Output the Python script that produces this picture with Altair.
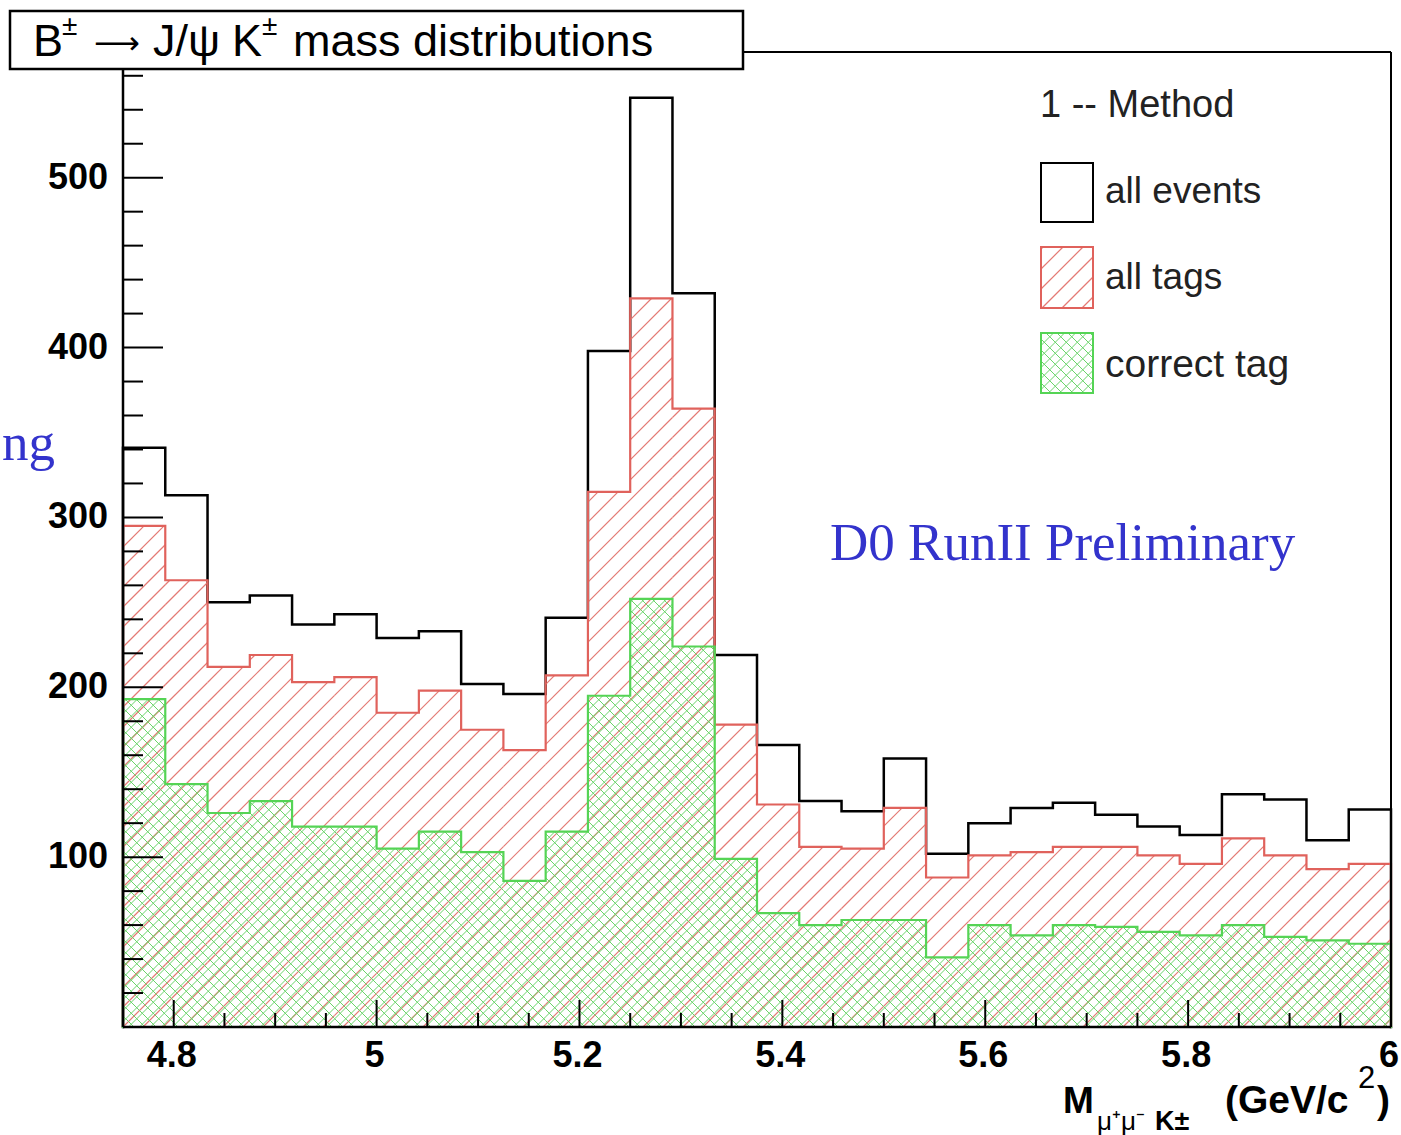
import math
import altair as alt
import pandas as pd

# ---------------- data ----------------
bin_lo, bin_hi, n_bins = 4.75, 6.0, 30
all_events = [341, 313, 250, 254, 237, 243, 229, 233, 202, 196,
              241, 398, 547, 432, 219, 166, 133, 127, 158, 102,
              120, 129, 132, 125, 118, 113, 137, 134, 110, 128]
all_tags = [295, 263, 212, 219, 203, 206, 185, 198, 175, 163,
            207, 315, 429, 364, 178, 131, 106, 105, 129, 88,
            101, 103, 106, 106, 101, 96, 111, 101, 93, 96]
correct_tag = [193, 143, 126, 133, 118, 118, 105, 115, 103, 86,
               115, 195, 252, 224, 99, 67, 60, 63, 63, 41,
               60, 54, 60, 59, 56, 54, 60, 53, 51, 49]
x_tick_labels = [4.8, 5.0, 5.2, 5.4, 5.6, 5.8, 6.0]
y_tick_labels = [100, 200, 300, 400, 500]
y_max = 574
legend_labels = ["all events", "all tags", "correct tag"]

# ---------------- geometry helpers ----------------
W, H = 1268, 975
bw = (bin_hi - bin_lo) / n_bins
edges = [bin_lo + i * bw for i in range(n_bins + 1)]

def px(x):
    return (x - bin_lo) / (bin_hi - bin_lo) * W

def py(v):
    return v / y_max * H

def dx(p):
    return bin_lo + p / W * (bin_hi - bin_lo)

def dy(p):
    return p / H * y_max

def step_df(vals):
    rows = [(bin_lo, 0)]
    for i, v in enumerate(vals):
        rows.append((edges[i], v))
        rows.append((edges[i + 1], v))
    rows.append((bin_hi, 0))
    return pd.DataFrame({"x": [r[0] for r in rows], "y": [r[1] for r in rows],
                         "o": list(range(len(rows)))})

def hatch(rects, spacing, phase, direction):
    segs = []
    for (xa, xb, yb, yt) in rects:
        if yt <= yb:
            continue
        if direction > 0:  # lines x - y = c  ("///")
            cmin, cmax = xa - yt, xb - yb
            for k in range(math.ceil((cmin - phase) / spacing), math.floor((cmax - phase) / spacing) + 1):
                c = phase + k * spacing
                lo, hi = max(xa, c + yb), min(xb, c + yt)
                if hi - lo > 0.3:
                    segs.append((lo, lo - c, hi, hi - c))
        else:  # lines x + y = c ("\\\")
            cmin, cmax = xa + yb, xb + yt
            for k in range(math.ceil((cmin - phase) / spacing), math.floor((cmax - phase) / spacing) + 1):
                c = phase + k * spacing
                lo, hi = max(xa, c - yt), min(xb, c - yb)
                if hi - lo > 0.3:
                    segs.append((lo, c - lo, hi, c - hi))
    return pd.DataFrame({"x1": [dx(s[0]) for s in segs], "y1": [dy(s[1]) for s in segs],
                         "x2": [dx(s[2]) for s in segs], "y2": [dy(s[3]) for s in segs]})

def hist_rects(vals):
    return [(px(edges[i]), px(edges[i + 1]), 0.0, py(v)) for i, v in enumerate(vals)]

# legend swatch rectangles (plot-relative pixels, y measured downward)
sw_x0, sw_x1 = 918, 970
sw_black = (111, 170)
sw_red = (195, 256)
sw_green = (281, 341)

def sw_rect(r):
    return [(sw_x0, sw_x1, H - r[1], H - r[0])]

RED = "#e0625c"
RED_H = "#e47a74"
GREEN = "#55d455"
GREEN_H = "#6ad46a"
S_RED, S_GREEN = 20, 11

red_hatch = pd.concat([hatch(hist_rects(all_tags), S_RED, 0, 1),
                       hatch(sw_rect(sw_red), S_RED, 0, 1)])
green_hatch = pd.concat([hatch(hist_rects(correct_tag), S_GREEN, S_GREEN / 2, 1),
                         hatch(hist_rects(correct_tag), S_GREEN, 0, -1),
                         hatch(sw_rect(sw_green), S_GREEN, S_GREEN / 2, 1),
                         hatch(sw_rect(sw_green), S_GREEN, 0, -1)])

xs = alt.Scale(domain=[bin_lo, bin_hi], nice=False, zero=False)
ys = alt.Scale(domain=[0, y_max], nice=False, zero=True)

def seg_layer(df, color, width):
    return alt.Chart(df).mark_rule(color=color, strokeWidth=width).encode(
        x=alt.X("x1:Q", scale=xs, axis=None), y=alt.Y("y1:Q", scale=ys, axis=None),
        x2="x2:Q", y2="y2:Q")

def step_layer(vals, color, width):
    return alt.Chart(step_df(vals)).mark_line(
        color=color, strokeWidth=width, strokeJoin="miter", strokeCap="square").encode(
        x=alt.X("x:Q", scale=xs, axis=None), y=alt.Y("y:Q", scale=ys, axis=None),
        order=alt.Order("o:Q"))

# ticks
y_ticks = list(range(20, 561, 20))
y_major = pd.DataFrame({"v": [t for t in y_ticks if t % 100 == 0]})
y_minor = pd.DataFrame({"v": [t for t in y_ticks if t % 100 != 0]})
x_ticks = [round(4.80 + 0.05 * i, 2) for i in range(24)]
x_major = pd.DataFrame({"v": [t for t in x_ticks if abs(t * 5 - round(t * 5)) < 1e-6]})
x_minor = pd.DataFrame({"v": [t for t in x_ticks if abs(t * 5 - round(t * 5)) >= 1e-6]})

def ytick(df, length):
    return alt.Chart(df).mark_rule(color="black", strokeWidth=2).encode(
        y=alt.Y("v:Q", scale=ys, axis=None), x=alt.value(0), x2=alt.value(length))

def xtick(df, length):
    return alt.Chart(df).mark_rule(color="black", strokeWidth=2).encode(
        x=alt.X("v:Q", scale=xs, axis=None), y=alt.value(H), y2=alt.value(H - length))

y_labels = alt.Chart(pd.DataFrame({"v": y_tick_labels})).mark_text(
    font="Liberation Sans", fontWeight="bold", fontSize=36, color="black",
    align="right", baseline="middle").encode(
    y=alt.Y("v:Q", scale=ys, axis=None), x=alt.value(-15), text=alt.Text("v:Q", format="~g"))

x_labels = alt.Chart(pd.DataFrame({"v": x_tick_labels})).mark_text(
    font="Liberation Sans", fontWeight="bold", fontSize=36, color="black",
    align="center", baseline="top", dx=-2).encode(
    x=alt.X("v:Q", scale=xs, axis=None), y=alt.value(H + 12), text=alt.Text("v:Q", format="~g"))

one = pd.DataFrame({"a": [0]})

def rule(x, y, x2=None, y2=None, w=2):
    enc = dict(x=alt.value(x), y=alt.value(y))
    if x2 is not None:
        enc["x2"] = alt.value(x2)
    if y2 is not None:
        enc["y2"] = alt.value(y2)
    return alt.Chart(one).mark_rule(color="black", strokeWidth=w).encode(**enc)

def box(x, y, x2, y2, stroke, fill=None, w=2):
    kw = dict(stroke=stroke, strokeWidth=w)
    if fill:
        kw["fill"] = fill
    else:
        kw["fillOpacity"] = 0
        kw["fill"] = "white"
    return alt.Chart(one).mark_rect(**kw).encode(
        x=alt.value(x), x2=alt.value(x2), y=alt.value(y), y2=alt.value(y2))

def text(t, x, y, size, weight="normal", font="Liberation Sans", color="black",
         align="left", baseline="alphabetic"):
    return alt.Chart(pd.DataFrame({"t": [t]})).mark_text(
        font=font, fontSize=size, fontWeight=weight, color=color, align=align,
        baseline=baseline).encode(text="t:N", x=alt.value(x), y=alt.value(y))

layers = [
    step_layer(all_events, "black", 2.5),
    seg_layer(red_hatch, RED_H, 1.2),
    step_layer(all_tags, RED, 2.2),
    seg_layer(green_hatch, GREEN_H, 1.0),
    step_layer(correct_tag, GREEN, 2.2),
    ytick(y_major, 40), ytick(y_minor, 20),
    xtick(x_major, 27), xtick(x_minor, 14),
    # axes and frame
    rule(0, 0, y2=H, w=2.5), rule(0, H, x2=W, w=2.5),
    rule(0, 0, x2=W, w=2), rule(W, 0, y2=H, w=2),
    y_labels, x_labels,
    # title box
    box(-113, -41, 620, 17, "black", fill="white", w=2.5),
    text("B", -90, 4, 45),
    text("±", -61, -17, 28),
    text("⟶", -29, 2, 32, font="DejaVu Sans"),
    text("J/ψ", 30, 4, 45),
    text("K", 109, 4, 45),
    text("±", 139, -17, 28),
    text("mass distributions", 170, 4, 45),
    # legend
    text("1 -- Method", 917, 54, 38, color="#222222", baseline="middle"),
    box(sw_x0, sw_black[0], sw_x1, sw_black[1], "black", w=2),
    box(sw_x0, sw_red[0], sw_x1, sw_red[1], RED, w=2),
    box(sw_x0, sw_green[0], sw_x1, sw_green[1], GREEN, w=2),
    text(legend_labels[0], 982, 140, 37, color="#222222", baseline="middle"),
    text(legend_labels[1], 982, 226, 37, color="#222222", baseline="middle"),
    text(legend_labels[2], 982, 313, 39, color="#222222", baseline="middle"),
    # annotations
    text("D0 RunII Preliminary", 707, 508, 53, font="Liberation Serif", color="#3333cc"),
    text("ng", -68, 408, 53, font="Liberation Serif", color="#3333cc", align="right"),
    # x-axis title
    text("M", 940, 1061, 37, weight="bold"),
    text("μ⁺μ⁻", 974, 1078, 26),
    text("K±", 1032, 1078, 27, weight="bold"),
    text("(GeV/c", 1102, 1061, 39, weight="bold"),
    text("2", 1235, 1036, 31),
    text(")", 1254, 1061, 39, weight="bold"),
]

chart = alt.layer(*layers).properties(
    width=W, height=H,
    padding={"left": 123, "top": 52, "right": 10, "bottom": 108},
    autosize=alt.AutoSizeParams(type="none"),
    background="white",
).configure_view(stroke=None)

chart.save("out.html", embed_options={"renderer": "svg", "actions": False})
